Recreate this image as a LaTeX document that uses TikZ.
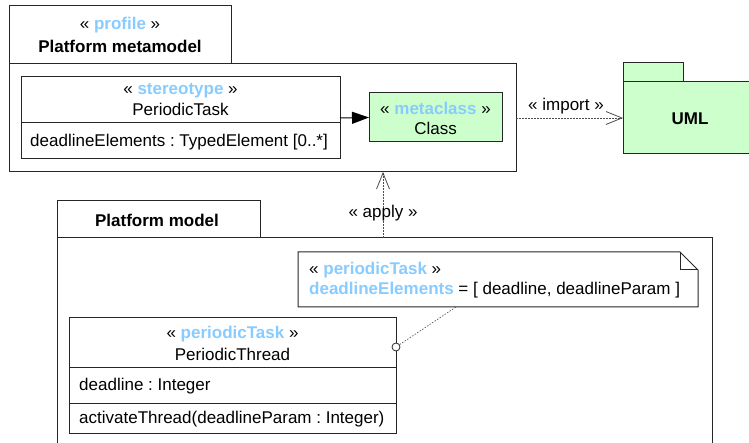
\documentclass[tikz,border=0pt]{standalone}
\usepackage{fontspec}
\setmainfont{Liberation Sans}
\usetikzlibrary{arrows.meta}
\definecolor{stereo}{RGB}{136,204,255}
\definecolor{mgreen}{RGB}{204,255,204}
\newcommand{\stt}[1]{\textcolor{stereo}{\textbf{#1}}}
\frenchspacing
\begin{document}
\begin{tikzpicture}[x=1pt,y=-1pt,
  box/.style={draw=black!85, line width=1pt, anchor=north west, inner sep=0pt, outer sep=0pt},
  txt/.style={font=\fontsize{17}{20}\selectfont, inner sep=0pt, text=black, yshift=-1.5pt},
  btxt/.style={font=\fontsize{17}{20}\selectfont\bfseries, inner sep=0pt, text=black, yshift=-1.5pt},
  dep/.style={draw=black!70, line width=0.6pt, dash pattern=on 1.5pt off 1.5pt},
  openhead/.style={-{Straight Barb[length=16pt,width=13pt,line width=0.8pt]}},
]
\useasboundingbox (0,0) rectangle (749,443);
\clip (0,0) rectangle (749,443);

% Profile package
\node[box, minimum width=222pt, minimum height=58pt] (pmtab) at (9,6) {};
\node[box, minimum width=507pt, minimum height=108pt] (pm) at (9,64) {};
\node[txt] (pmst) at (120,24) {« \stt{profile} »};
\node[btxt] (pmname) at (120,45) {Platform metamodel};

% PeriodicTask stereotype
\node[box, minimum width=319pt, minimum height=82pt] (pt) at (21,77) {};
\draw[draw=black!85, line width=1pt] (21,123) -- (340,123);
\node[txt] (ptst) at (180.5,89) {« \stt{stereotype} »};
\node[txt] (ptname) at (180.5,108) {PeriodicTask};
\node[txt, anchor=west] (ptattr) at (30,141) {deadlineElements : TypedElement [0..*]};

% Metaclass
\node[box, fill=mgreen, minimum width=133pt, minimum height=49pt] (cls) at (369,93) {};
\node[txt] (clsst) at (435.5,107) {« \stt{metaclass} »};
\node[txt] (clsname) at (435.5,127) {Class};

\draw[line width=1pt, -{Triangle[length=17pt,width=12pt]}] (pt.east) -- (cls.west);

% UML package
\node[box, fill=mgreen, minimum width=60pt, minimum height=19pt] (umltab) at (623,63) {};
\node[box, fill=mgreen, minimum width=140pt, minimum height=72pt] (uml) at (623,82) {};
\node[btxt] (umlname) at (690,117) {UML};

% import
\draw[dep, openhead] (pm.east) -- (uml.west);
\node[txt] (implbl) at (566,105) {« import »};

% Platform model package
\node[box, minimum width=203pt, minimum height=37pt] (pltab) at (57,201) {};
\node[box, minimum width=655pt, minimum height=230pt] (pl) at (57,238) {};
\node[btxt] (plname) at (157,219) {Platform model};

% apply
\coordinate (ap1) at (383,238);
\coordinate (ap2) at (383,172);
\draw[dep, openhead] (ap1) -- (ap2);
\node[txt] (aplbl) at (383,212) {« apply »};

% Note
\draw[draw=black!85, line width=1pt, fill=white] (298,252) -- (680,252) -- (698,270) -- (698,307) -- (298,307) -- cycle;
\draw[draw=black!85, line width=1pt] (680,252) -- (680,270) -- (698,270);
\coordinate (notebot) at (456,307);
\node[txt, anchor=west] (n1) at (309,269) {« \stt{periodicTask} »};
\node[txt, anchor=west] (n2) at (309,289) {\stt{deadlineElements} = [ deadline, deadlineParam ]};

% PeriodicThread
\node[box, fill=white, minimum width=327pt, minimum height=115pt] (pth) at (69,318) {};
\draw[draw=black!85, line width=1pt] (69,367) -- (396,367);
\draw[draw=black!85, line width=1pt] (69,403) -- (396,403);
\node[txt] (pthst) at (232.5,333) {« \stt{periodicTask} »};
\node[txt] (pthname) at (232.5,353) {PeriodicThread};
\node[txt, anchor=west] (ptha) at (79,385) {deadline : Integer};
\node[txt, anchor=west] (ptho) at (79,418) {activateThread(deadlineParam : Integer)};

\node[draw=black!85, line width=0.8pt, fill=white, circle, minimum size=8pt, inner sep=0pt] (circ) at (396,347) {};
\draw[dep] (circ) -- (notebot);
\end{tikzpicture}
\end{document}
